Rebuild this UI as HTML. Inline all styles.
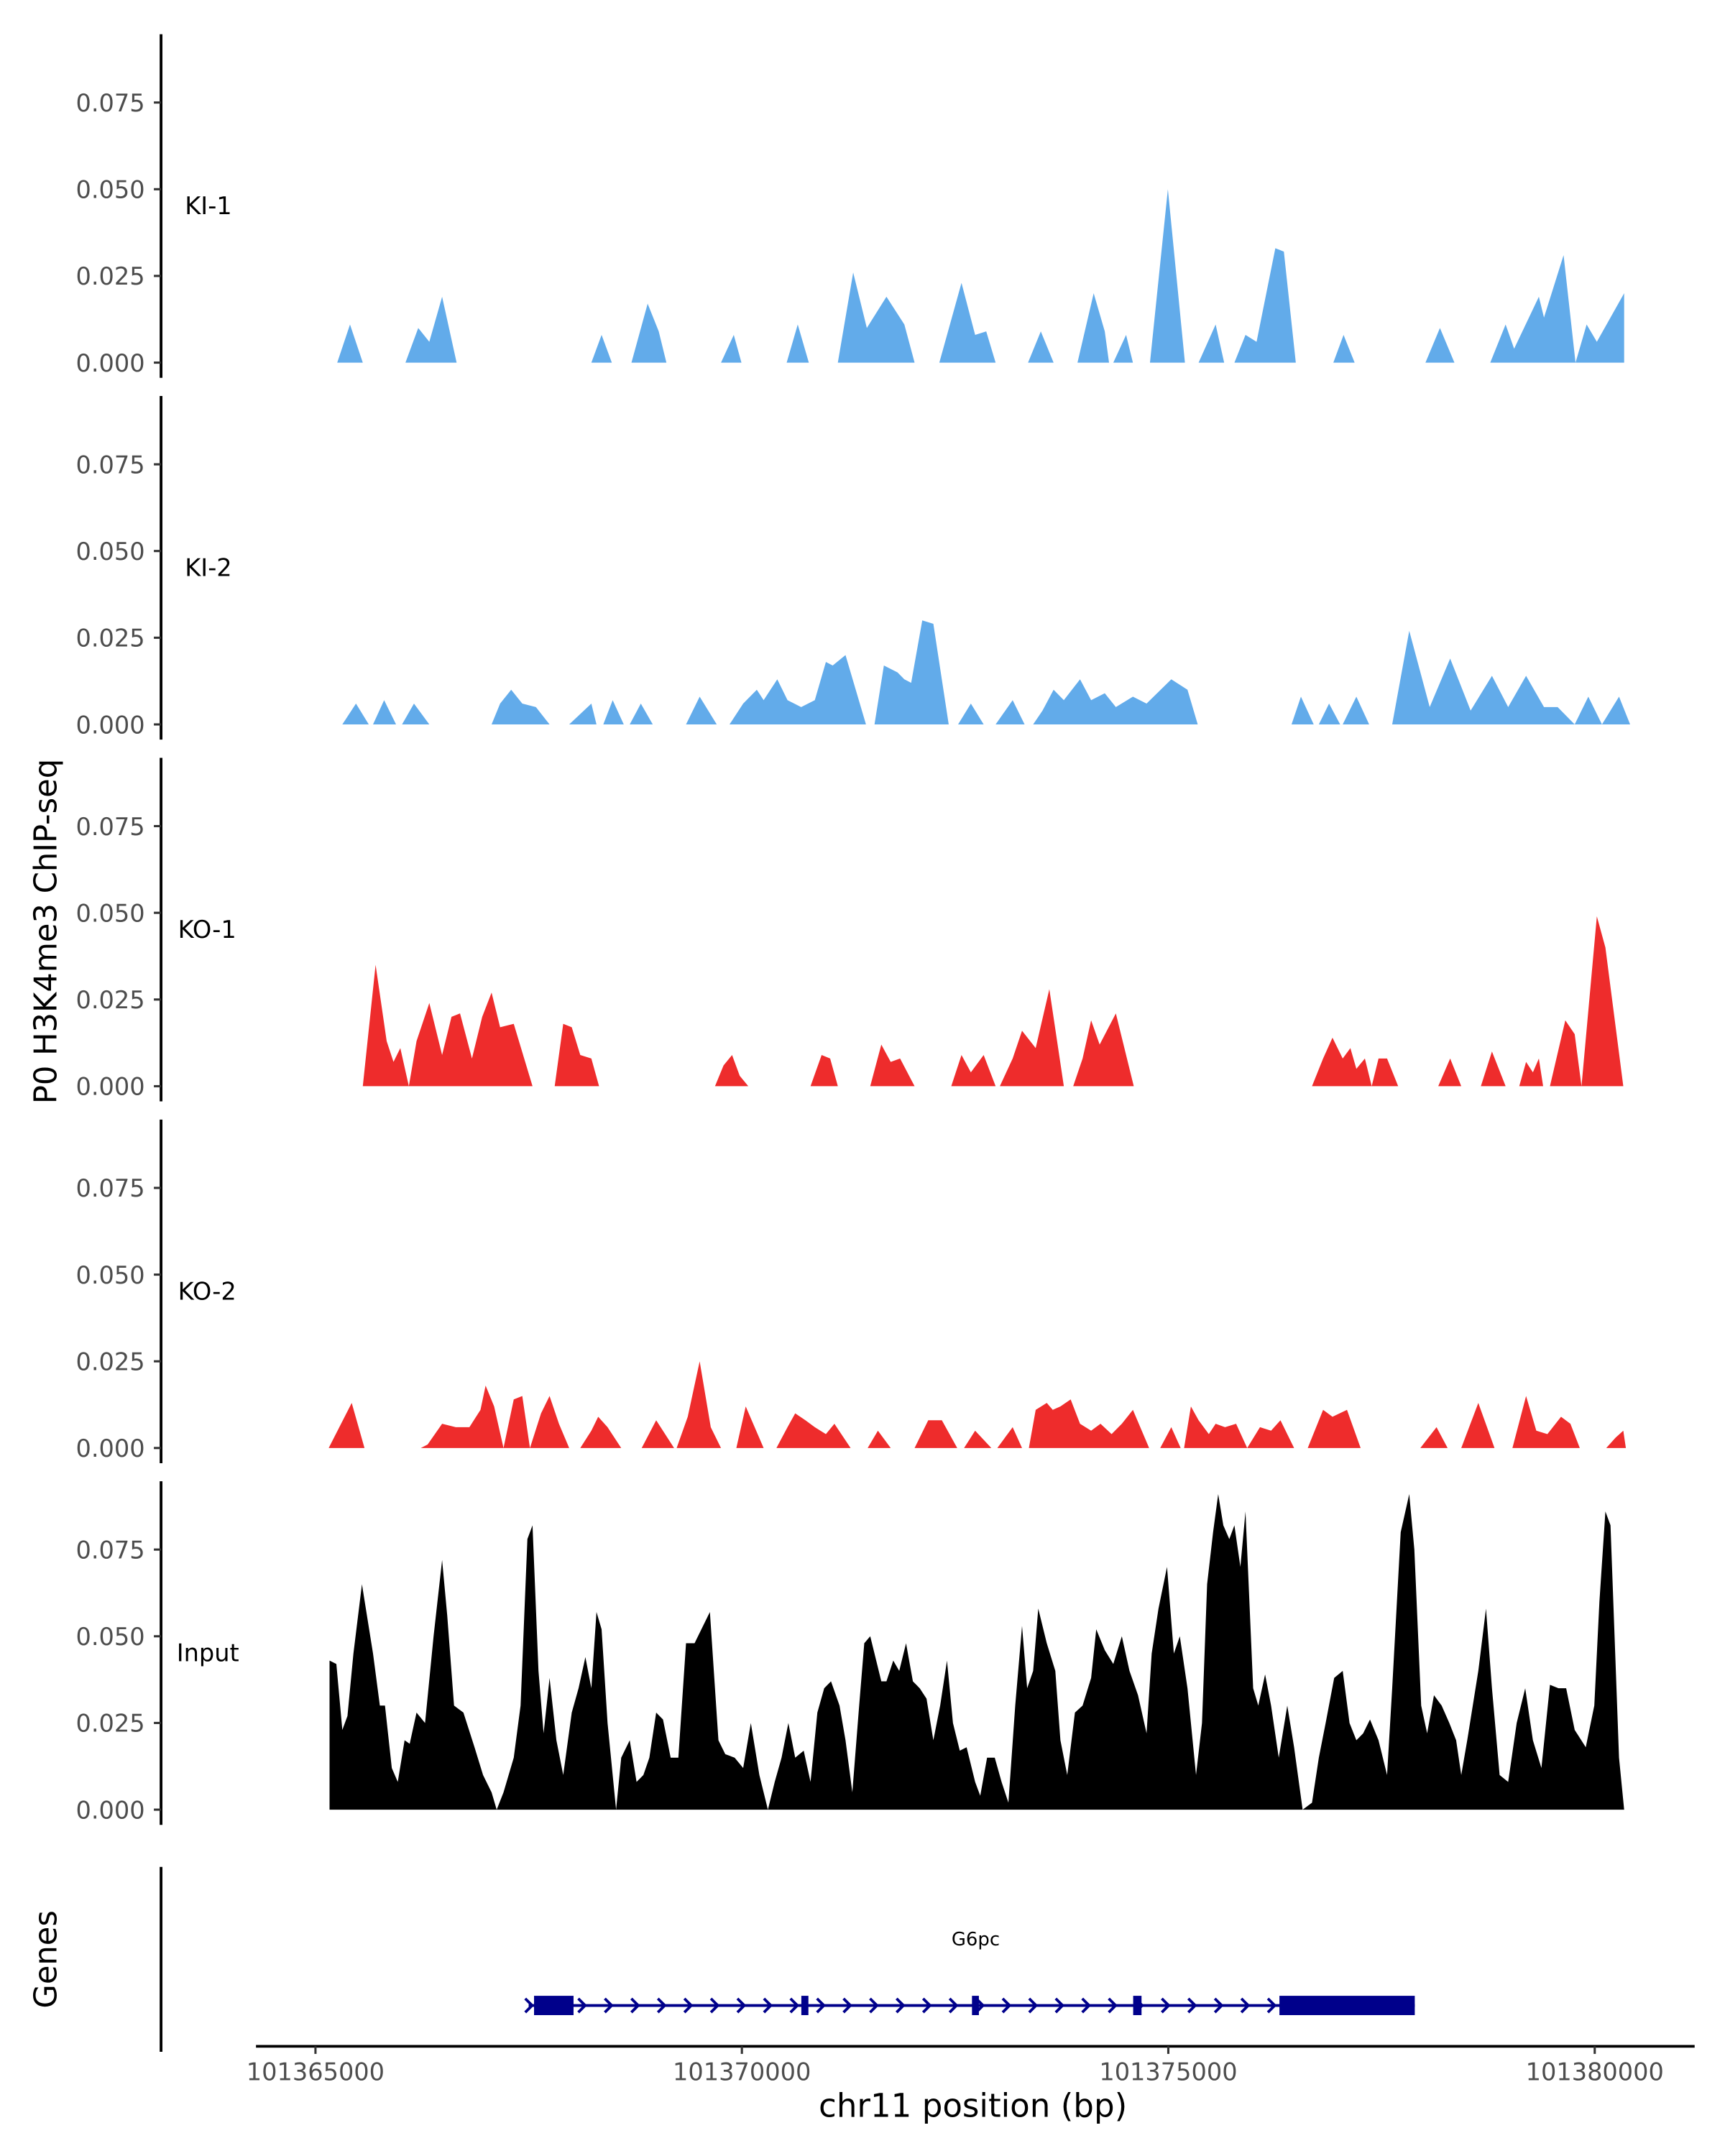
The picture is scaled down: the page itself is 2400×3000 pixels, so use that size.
<!DOCTYPE html>
<html><head><meta charset="utf-8"><style>
html,body{margin:0;padding:0;background:#fff}
svg{display:block}
text{font-family:"DejaVu Sans","Liberation Sans",sans-serif}
</style></head><body>
<svg id="chart" width="2400" height="3000" viewBox="0 0 1250 1562.5" xmlns="http://www.w3.org/2000/svg">
<g id="g"></g>
</svg>
<script>
// ---- data (positions in kb offset from 101365000, values = signal) ----
const START = 101365000;
const DATA_SHIFT_KB = 0.055;
const xTicks = [101365000, 101370000, 101375000, 101380000];
const yTicks = [0, 0.025, 0.05, 0.075];
const trackNames = ["KI-1", "KI-2", "KO-1", "KO-2", "Input"];

const ki1Pos = [0.2,0.35,0.5, 1.0,1.15,1.28,1.43,1.6, 3.18,3.3,3.42, 3.65,3.84,3.97,4.06, 4.7,4.85,4.94, 5.47,5.6,5.73, 6.07,6.25,6.41,6.64,6.85,6.97, 7.26,7.52,7.68,7.81,7.92, 8.3,8.45,8.6, 8.88,9.07,9.2,9.25, 9.3,9.45,9.53, 9.73,9.94,10.14, 10.3,10.5,10.6, 10.72,10.85,10.98,11.2,11.3,11.44, 11.88,12.0,12.13, 12.96,13.13,13.3, 13.72,13.9,14.0,14.29,14.35,14.58,14.72,14.85,14.97,15.29,15.29];
const ki1Val = [0,0.011,0, 0,0.010,0.006,0.019,0, 0,0.008,0, 0,0.017,0.009,0, 0,0.008,0, 0,0.011,0, 0,0.026,0.010,0.019,0.011,0, 0,0.023,0.008,0.009,0, 0,0.009,0, 0,0.020,0.009,0, 0,0.008,0, 0,0.050,0, 0,0.011,0, 0,0.008,0.006,0.033,0.032,0, 0,0.008,0, 0,0.010,0, 0,0.011,0.004,0.019,0.013,0.031,0,0.011,0.006,0.020,0];

const ki2Pos = [0.26,0.42,0.57, 0.62,0.75,0.89, 0.96,1.1,1.28, 2.01,2.11,2.24,2.37,2.53,2.69, 2.92,3.05,3.18,3.24, 3.32,3.43,3.56, 3.63,3.76,3.9, 4.29,4.45,4.65, 4.8,4.96,5.12,5.2,5.36,5.48,5.64,5.8,5.93,6.01,6.16,6.4, 6.5,6.61,6.77,6.85,6.93,7.06,7.19,7.37, 7.48,7.63,7.78, 7.92,8.12,8.26, 8.36,8.47,8.6,8.72,8.91,9.04,9.2,9.33,9.53,9.69,9.98,10.17,10.29, 11.39,11.5,11.65, 11.71,11.83,11.96, 11.99,12.15,12.3, 12.57,12.77,13.01,13.25,13.49,13.74,13.93,14.14,14.35,14.51,14.71,14.87,15.03,15.23,15.36];
const ki2Val = [0,0.006,0, 0,0.007,0, 0,0.006,0, 0,0.006,0.010,0.006,0.005,0, 0,0.003,0.006,0, 0,0.007,0, 0,0.006,0, 0,0.008,0, 0,0.006,0.010,0.007,0.013,0.007,0.005,0.007,0.018,0.017,0.020,0, 0,0.017,0.015,0.013,0.012,0.030,0.029,0, 0,0.006,0, 0,0.007,0, 0,0.004,0.010,0.007,0.013,0.007,0.009,0.005,0.008,0.006,0.013,0.010,0, 0,0.008,0, 0,0.006,0, 0,0.008,0, 0,0.027,0.005,0.019,0.004,0.014,0.005,0.014,0.005,0.005,0,0.008,0,0.008,0];

const ko1Pos = [0.5,0.65,0.78,0.86,0.94,1.04,1.13,1.28,1.43,1.54,1.64,1.78,1.9,2.01,2.11,2.27,2.49, 2.75,2.85,2.95,3.05,3.18,3.27, 4.63,4.73,4.83,4.92,5.02, 5.75,5.88,5.98,6.07, 6.45,6.58,6.69,6.8,6.97, 7.4,7.52,7.63,7.78,7.92, 7.97,8.12,8.23,8.39,8.55,8.72, 8.83,8.94,9.04,9.14,9.33,9.54, 11.63,11.76,11.87,11.99,12.08,12.15,12.25,12.33,12.41,12.51,12.64, 13.11,13.25,13.38, 13.61,13.74,13.9, 14.06,14.14,14.22,14.29,14.34, 14.42,14.6,14.71,14.79,14.97,15.07,15.28];
const ko1Val = [0,0.035,0.013,0.007,0.011,0,0.013,0.024,0.009,0.020,0.021,0.008,0.020,0.027,0.017,0.018,0, 0,0.018,0.017,0.009,0.008,0, 0,0.006,0.009,0.003,0, 0,0.009,0.008,0, 0,0.012,0.007,0.008,0, 0,0.009,0.004,0.009,0, 0,0.008,0.016,0.011,0.028,0, 0,0.008,0.019,0.012,0.021,0, 0,0.008,0.014,0.008,0.011,0.005,0.008,0,0.008,0.008,0, 0,0.008,0, 0,0.010,0, 0,0.007,0.004,0.008,0, 0,0.019,0.015,0,0.049,0.040,0];

const ko2Pos = [0.10,0.37,0.52, 1.18,1.26,1.43,1.59,1.75,1.88,1.94,2.04,2.15,2.27,2.37,2.46, 2.59,2.69,2.80,2.92, 3.05,3.18,3.26,3.37,3.53, 3.77,3.94,4.15, 4.18,4.31,4.45,4.58,4.70, 4.88,4.99,5.20, 5.35,5.48,5.57,5.69,5.80,5.93,6.03,6.22, 6.42,6.54,6.69, 6.97,7.13,7.29,7.47, 7.55,7.68,7.87, 7.94,8.12,8.23, 8.31,8.39,8.52,8.59,8.68,8.80,8.91,9.04,9.15,9.28,9.40,9.53,9.72, 9.85,9.98,10.09, 10.13,10.21,10.30,10.42,10.50,10.61,10.74,10.87,11.02,11.15,11.26,11.42, 11.58,11.76,11.87,12.04,12.20, 12.90,13.09,13.22, 13.38,13.58,13.77, 13.98,14.14,14.26,14.39,14.55,14.66,14.77, 15.08,15.19,15.28,15.31];
const ko2Val = [0,0.013,0, 0,0.001,0.007,0.006,0.006,0.011,0.018,0.012,0,0.014,0.015,0, 0.010,0.015,0.007,0, 0,0.005,0.009,0.006,0, 0,0.008,0, 0,0.009,0.025,0.006,0, 0,0.012,0, 0,0.006,0.010,0.008,0.006,0.004,0.007,0, 0,0.005,0, 0,0.008,0.008,0, 0,0.005,0, 0,0.006,0, 0,0.011,0.013,0.011,0.012,0.014,0.007,0.005,0.007,0.004,0.007,0.011,0, 0,0.006,0, 0,0.012,0.008,0.004,0.007,0.006,0.007,0,0.006,0.005,0.008,0, 0,0.011,0.009,0.011,0, 0,0.006,0, 0,0.013,0, 0,0.015,0.005,0.004,0.009,0.007,0, 0,0.003,0.005,0];

const inPos = [0.11,0.19,0.26,0.32,0.39,0.49,0.62,0.70,0.76,0.84,0.91,0.99,1.05,1.13,1.23,1.33,1.43,1.49,1.57,1.68,1.81,1.91,2.01,2.07,2.15,2.27,2.35,2.43,2.49,2.56,2.62,2.69,2.77,2.85,2.95,3.03,3.11,3.18,3.24,3.30,3.37,3.47,3.53,3.63,3.71,3.79,3.86,3.94,4.02,4.11,4.20,4.29,4.39,4.47,4.57,4.67,4.75,4.86,4.96,5.05,5.15,5.25,5.33,5.41,5.49,5.57,5.67,5.75,5.83,5.91,5.99,6.09,6.16,6.24,6.32,6.38,6.45,6.51,6.58,6.64,6.72,6.79,6.87,6.95,7.03,7.11,7.19,7.27,7.35,7.42,7.50,7.58,7.68,7.74,7.82,7.91,7.99,8.07,8.15,8.23,8.29,8.36,8.42,8.52,8.62,8.68,8.76,8.85,8.94,9.04,9.10,9.20,9.30,9.40,9.49,9.59,9.69,9.75,9.83,9.93,10.01,10.08,10.17,10.27,10.34,10.40,10.47,10.53,10.59,10.66,10.72,10.79,10.85,10.94,11.00,11.08,11.15,11.24,11.34,11.42,11.52,11.63,11.71,11.79,11.89,11.99,12.07,12.15,12.23,12.31,12.41,12.51,12.57,12.67,12.77,12.83,12.91,12.98,13.06,13.15,13.24,13.32,13.38,13.45,13.58,13.67,13.74,13.83,13.93,14.03,14.13,14.22,14.32,14.42,14.52,14.61,14.71,14.84,14.94,15.00,15.07,15.13,15.23,15.29];
const inVal = [0.043,0.042,0.023,0.027,0.045,0.065,0.045,0.030,0.030,0.012,0.008,0.020,0.019,0.028,0.025,0.050,0.072,0.056,0.030,0.028,0.018,0.010,0.005,0,0.005,0.015,0.030,0.078,0.082,0.040,0.022,0.038,0.020,0.010,0.028,0.035,0.044,0.035,0.057,0.052,0.025,0,0.015,0.020,0.008,0.010,0.015,0.028,0.026,0.015,0.015,0.048,0.048,0.052,0.057,0.020,0.016,0.015,0.012,0.025,0.010,0,0.008,0.015,0.025,0.015,0.017,0.008,0.028,0.035,0.037,0.030,0.020,0.005,0.030,0.048,0.050,0.044,0.037,0.037,0.043,0.040,0.048,0.037,0.035,0.032,0.020,0.030,0.043,0.025,0.017,0.018,0.008,0.004,0.015,0.015,0.008,0.002,0.030,0.053,0.035,0.040,0.058,0.048,0.040,0.020,0.010,0.028,0.030,0.038,0.052,0.046,0.042,0.050,0.040,0.033,0.022,0.045,0.058,0.070,0.045,0.050,0.035,0.010,0.025,0.065,0.080,0.091,0.082,0.078,0.082,0.070,0.086,0.035,0.030,0.039,0.030,0.015,0.030,0.018,0,0.002,0.015,0.025,0.038,0.040,0.025,0.020,0.022,0.026,0.020,0.010,0.035,0.080,0.091,0.075,0.030,0.022,0.033,0.030,0.025,0.020,0.010,0.020,0.040,0.058,0.035,0.010,0.008,0.025,0.035,0.020,0.012,0.036,0.035,0.035,0.023,0.018,0.030,0.060,0.086,0.082,0.015,0];

const geneExonStart = [101367563, 101370697, 101372698, 101374588, 101376303];
const geneExonEnd   = [101368026, 101370780, 101372779, 101374686, 101377890];
const geneStart = 101367500, geneEnd = 101377890;

// ---- drawing ----
const NS = "http://www.w3.org/2000/svg";
const g = document.getElementById("g");
function el(tag, attrs, parent) {
  const e = document.createElementNS(NS, tag);
  for (const k in attrs) e.setAttribute(k, attrs[k]);
  (parent || g).appendChild(e);
  return e;
}
const xScale = bp => 228.6 + (bp - START) * 309 / 5000;
const xKb = kb => xScale(START + (kb + DATA_SHIFT_KB) * 1000);
const baselines = [262.8, 525.0, 787.2, 1049.4, 1311.5];
const perUnit = 188.5 / 0.075;
const colors = ["#62ABEA", "#62ABEA", "#EE2C2C", "#EE2C2C", "#000000"];
const posArr = [ki1Pos, ki2Pos, ko1Pos, ko2Pos, inPos];
const valArr = [ki1Val, ki2Val, ko1Val, ko2Val, inVal];
const labelX = [134, 134, 129, 129, 128];

for (let t = 0; t < 5; t++) {
  const b = baselines[t];
  const yS = v => b - v * perUnit;
  const ax = el("line", {x1:116.7, x2:116.7, y1:b - 238, y2:b + 11, stroke:"#000", "stroke-width":2});
  
  
  yTicks.forEach(v => {
    const tk = el("line", {x1:111.5, x2:116.7, y1:yS(v), y2:yS(v), stroke:"#333", "stroke-width":1.6});
    
    
    const lb = el("text", {x:105, y:yS(v) + 6.4, "text-anchor":"end", "font-size":17.5, fill:"#4d4d4d"});
    lb.textContent = v.toFixed(3);
    
    
  });
  const nm = el("text", {x:labelX[t], y:b - 107.5, "font-size":17.5, fill:"#000"});
  nm.textContent = trackNames[t];
  
  
  const P = posArr[t], V = valArr[t];
  let d = "M" + xKb(P[0]).toFixed(2) + "," + b;
  for (let i = 0; i < P.length; i++) d += " L" + xKb(P[i]).toFixed(2) + "," + yS(V[i]).toFixed(2);
  d += " L" + xKb(P[P.length-1]).toFixed(2) + "," + b + " Z";
  const area = el("path", {d:d, fill:colors[t], "stroke-linejoin":"round"});
  
  
}

// genes panel
const gax = el("line", {x1:116.7, x2:116.7, y1:1353, y2:1487, stroke:"#000", "stroke-width":2});


const xax = el("line", {x1:185.5, x2:1228, y1:1483, y2:1483, stroke:"#000", "stroke-width":2});


xTicks.forEach(v => {
  const tk = el("line", {x1:xScale(v), x2:xScale(v), y1:1483, y2:1488.5, stroke:"#333", "stroke-width":1.6});
  
  
  const lb = el("text", {x:xScale(v), y:1507.5, "text-anchor":"middle", "font-size":17.5, fill:"#4d4d4d"});
  lb.textContent = String(v);
  
  
});
const gy = 1453.4;
const intron = el("line", {x1:xScale(geneStart), x2:xScale(geneEnd), y1:gy, y2:gy, stroke:"#00008B", "stroke-width":2});


for (let bp = geneStart; bp < geneEnd - 150; bp += 311) {
  const x = xScale(bp);
  const ar = el("polyline", {points:(x-2.5)+","+(gy-5)+" "+(x+2.5)+","+gy+" "+(x-2.5)+","+(gy+5), fill:"none", stroke:"#00008B", "stroke-width":2});
  
  
}
for (let i = 0; i < geneExonStart.length; i++) {
  const x1 = xScale(geneExonStart[i]), x2 = xScale(geneExonEnd[i]);
  const ex = el("rect", {x:x1, y:gy-7, width:x2-x1, height:14, fill:"#00008B"});
  
  
}
const gl = el("text", {x:707, y:1410, "text-anchor":"middle", "font-size":13.5, fill:"#000"});
gl.textContent = "G6pc";



const xt = el("text", {x:705, y:1534, "text-anchor":"middle", "font-size":23.5, fill:"#000"});
xt.textContent = "chr11 position (bp)";


const yt = el("text", {x:0, y:0, "text-anchor":"middle", "font-size":22.5, fill:"#000", transform:"translate(41,675) rotate(-90)"});
yt.textContent = "P0 H3K4me3 ChIP-seq";


const gt = el("text", {x:0, y:0, "text-anchor":"middle", "font-size":22.5, fill:"#000", transform:"translate(41,1420) rotate(-90)"});
gt.textContent = "Genes";


</script>
</body></html>
